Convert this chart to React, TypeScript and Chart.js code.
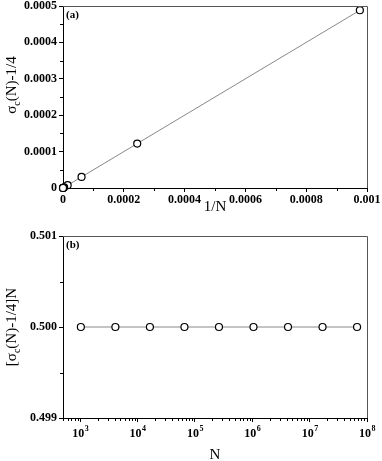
import React, { useEffect, useRef } from 'react';
import { Chart, registerables } from 'chart.js';
Chart.register(...registerables);

// ---- Data ----
const invN = [0.0009765625, 0.000244140625, 0.00006103515625, 0.0000152587890625, 0.000003814697265625, 9.5367431640625e-7, 2.384185791015625e-7, 5.9604644775390625e-8, 1.4901161193847656e-8];
const sigmaMinusQuarter = [0.00048828125, 0.0001220703125, 0.000030517578125, 0.00000762939453125, 0.0000019073486328125, 4.76837158203125e-7, 1.1920928955078125e-7, 2.9802322387695312e-8, 7.450580596923828e-9];
const nValues = [1024, 4096, 16384, 65536, 262144, 1048576, 4194304, 16777216, 67108864];
const scaledValues = [0.5, 0.5, 0.5, 0.5, 0.5, 0.5, 0.5, 0.5, 0.5];

const topXTicks = [0, 0.0002, 0.0004, 0.0006, 0.0008, 0.001];
const topXTickLabels = ['0', '0.0002', '0.0004', '0.0006', '0.0008', '0.001'];
const topXMinor = [0.0001, 0.0003, 0.0005, 0.0007, 0.0009];
const topYTicks = [0, 0.0001, 0.0002, 0.0003, 0.0004, 0.0005];
const topYTickLabels = ['0', '0.0001', '0.0002', '0.0003', '0.0004', '0.0005'];
const topYMinor = [0.00005, 0.00015, 0.00025, 0.00035, 0.00045];

const botXTicks = [1e3, 1e4, 1e5, 1e6, 1e7, 1e8];
const botXExponents = ['3', '4', '5', '6', '7', '8'];
const botXMinor = [500, 600, 700, 800, 900,
  2e3, 3e3, 4e3, 5e3, 6e3, 7e3, 8e3, 9e3,
  2e4, 3e4, 4e4, 5e4, 6e4, 7e4, 8e4, 9e4,
  2e5, 3e5, 4e5, 5e5, 6e5, 7e5, 8e5, 9e5,
  2e6, 3e6, 4e6, 5e6, 6e6, 7e6, 8e6, 9e6,
  2e7, 3e7, 4e7, 5e7, 6e7, 7e7, 8e7, 9e7];
const botYTicks = [0.499, 0.5, 0.501];
const botYTickLabels = ['0.499', '0.500', '0.501'];
const botYMinor = [0.4995, 0.5005];

const W = 382;
const TICK_FONT = { family: '"Liberation Serif", "Times New Roman", serif', size: 12, weight: 'bold' as const };
const SERIF = '"Liberation Serif", "Times New Roman", serif';

type PanelCfg = {
  height: number;
  label: string;
  xTitle: string;
  xTitleOffset: number;
  yTitleParts: { pre: string; post: string };
  yTitleCenterY: number;
  xMinor: number[];
  yMinor: number[];
  logLabels?: { values: number[]; exps: string[] };
};

function makeOverlay(cfg: PanelCfg) {
  return {
    id: 'overlay',
    afterDraw(chart: any) {
      const ctx = chart.ctx as CanvasRenderingContext2D;
      const a = chart.chartArea;
      const xs = chart.scales.x;
      const ys = chart.scales.y;
      ctx.save();
      // top & right frame
      ctx.strokeStyle = '#555';
      ctx.lineWidth = 1;
      ctx.beginPath();
      ctx.moveTo(a.left, a.top + 0.5);
      ctx.lineTo(a.right + 0.5, a.top + 0.5);
      ctx.lineTo(a.right + 0.5, a.bottom);
      ctx.stroke();
      // minor ticks
      ctx.strokeStyle = '#000';
      ctx.beginPath();
      for (const v of cfg.xMinor) {
        const px = Math.round(xs.getPixelForValue(v)) + 0.5;
        ctx.moveTo(px, a.bottom);
        ctx.lineTo(px, a.bottom + 3);
      }
      for (const v of cfg.yMinor) {
        const py = Math.round(ys.getPixelForValue(v)) + 0.5;
        ctx.moveTo(a.left, py);
        ctx.lineTo(a.left - 3, py);
      }
      ctx.stroke();
      // log labels with superscripts
      ctx.fillStyle = '#000';
      if (cfg.logLabels) {
        cfg.logLabels.values.forEach((v, i) => {
          const px = xs.getPixelForValue(v);
          ctx.font = `bold 12px ${SERIF}`;
          const bw = ctx.measureText('10').width;
          ctx.font = `bold 8px ${SERIF}`;
          const ew = ctx.measureText(cfg.logLabels!.exps[i]).width;
          const start = px - (bw + ew) / 2;
          ctx.textBaseline = 'alphabetic';
          ctx.textAlign = 'left';
          ctx.font = `bold 12px ${SERIF}`;
          ctx.fillText('10', start, a.bottom + 19);
          ctx.font = `bold 8px ${SERIF}`;
          ctx.fillText(cfg.logLabels!.exps[i], start + bw + 0.5, a.bottom + 13);
        });
      }
      // panel label
      ctx.font = `bold 11px ${SERIF}`;
      ctx.textAlign = 'left';
      ctx.textBaseline = 'middle';
      ctx.fillText(cfg.label, a.left + 3, a.top + 9);
      // x title
      ctx.font = `15px ${SERIF}`;
      ctx.textAlign = 'center';
      ctx.fillText(cfg.xTitle, (a.left + a.right) / 2, a.bottom + cfg.xTitleOffset);
      // y title (rotated with subscript)
      ctx.translate(12, cfg.yTitleCenterY);
      ctx.rotate(-Math.PI / 2);
      ctx.textAlign = 'left';
      ctx.font = `15px ${SERIF}`;
      const preW = ctx.measureText(cfg.yTitleParts.pre + 'σ').width;
      const postW = ctx.measureText(cfg.yTitleParts.post).width;
      ctx.font = `10px ${SERIF}`;
      const subW = ctx.measureText('c').width;
      let x = -(preW + subW + postW) / 2;
      ctx.font = `15px ${SERIF}`;
      ctx.fillText(cfg.yTitleParts.pre + 'σ', x, 0);
      x += preW;
      ctx.font = `10px ${SERIF}`;
      ctx.fillText('c', x, 5);
      x += subW;
      ctx.font = `15px ${SERIF}`;
      ctx.fillText(cfg.yTitleParts.post, x, 0);
      ctx.restore();
    },
  };
}

function axisCommon() {
  return {
    grid: { drawOnChartArea: false, drawTicks: true, tickLength: 4, color: '#000', tickColor: '#000', lineWidth: 1 },
    border: { display: true, color: '#000', width: 1 },
  };
}

function Panel({ cfg, datasets, xScale, yScale }: { cfg: PanelCfg; datasets: any[]; xScale: any; yScale: any }) {
  const ref = useRef<HTMLCanvasElement>(null);
  useEffect(() => {
    const chart = new Chart(ref.current!, {
      type: 'scatter',
      data: { datasets },
      options: {
        responsive: false,
        animation: false,
        events: [],
        layout: { padding: { top: 6, right: 15, left: 0, bottom: 0 } },
        plugins: { legend: { display: false }, tooltip: { enabled: false }, title: { display: false } },
        scales: {
          x: {
            ...axisCommon(),
            ...xScale,
            afterFit: (s: any) => { s.height = cfg.height - 188; s.paddingLeft = 0; s.paddingRight = 0; },
          },
          y: {
            ...axisCommon(),
            ...yScale,
            afterFit: (s: any) => { s.width = 63; s.paddingTop = 0; s.paddingBottom = 0; },
          },
        },
      },
      plugins: [makeOverlay(cfg)],
    });
    return () => chart.destroy();
  }, []);
  return <canvas ref={ref} width={W} height={cfg.height} style={{ display: 'block', width: W, height: cfg.height }} />;
}

const pointStyle = {
  showLine: true,
  borderColor: '#888',
  borderWidth: 1,
  pointRadius: 3.5,
  pointBorderColor: '#000',
  pointBackgroundColor: '#fff',
  pointBorderWidth: 1.2,
  clip: false,
};

export default function App() {
  const topCfg: PanelCfg = {
    height: 230, label: '(a)', xTitle: '1/N', xTitleOffset: 19,
    yTitleParts: { pre: '', post: '(N)-1/4' }, yTitleCenterY: 85,
    xMinor: topXMinor, yMinor: topYMinor,
  };
  const botCfg: PanelCfg = {
    height: 231, label: '(b)', xTitle: 'N', xTitleOffset: 37,
    yTitleParts: { pre: '[', post: '(N)-1/4]N' }, yTitleCenterY: 97,
    xMinor: botXMinor, yMinor: botYMinor,
    logLabels: { values: botXTicks, exps: botXExponents },
  };
  const topData = [{ ...pointStyle, data: invN.map((x, i) => ({ x, y: sigmaMinusQuarter[i] })) }];
  const botData = [{ ...pointStyle, data: nValues.map((x, i) => ({ x, y: scaledValues[i] })) }];
  return (
    <div style={{ position: 'absolute', left: 0, top: 0, width: W, height: 461 }}>
      <Panel
        cfg={topCfg}
        datasets={topData}
        xScale={{
          type: 'linear', min: 0, max: 0.001,
          afterBuildTicks: (s: any) => { s.ticks = topXTicks.map((v) => ({ value: v })); },
          ticks: { font: TICK_FONT, color: '#000', padding: 1, maxRotation: 0, autoSkip: false,
            callback: (_v: any, i: number) => topXTickLabels[i] },
        }}
        yScale={{
          type: 'linear', min: 0, max: 0.0005,
          afterBuildTicks: (s: any) => { s.ticks = topYTicks.map((v) => ({ value: v })); },
          ticks: { font: TICK_FONT, color: '#000', padding: 2, autoSkip: false,
            callback: (_v: any, i: number) => topYTickLabels[i] },
        }}
      />
      <Panel
        cfg={botCfg}
        datasets={botData}
        xScale={{
          type: 'logarithmic', min: 500, max: 1e8,
          afterBuildTicks: (s: any) => { s.ticks = botXTicks.map((v) => ({ value: v })); },
          ticks: { display: false, autoSkip: false },
        }}
        yScale={{
          type: 'linear', min: 0.499, max: 0.501,
          afterBuildTicks: (s: any) => { s.ticks = botYTicks.map((v) => ({ value: v })); },
          ticks: { font: TICK_FONT, color: '#000', padding: 2, autoSkip: false,
            callback: (_v: any, i: number) => botYTickLabels[i] },
        }}
      />
    </div>
  );
}
